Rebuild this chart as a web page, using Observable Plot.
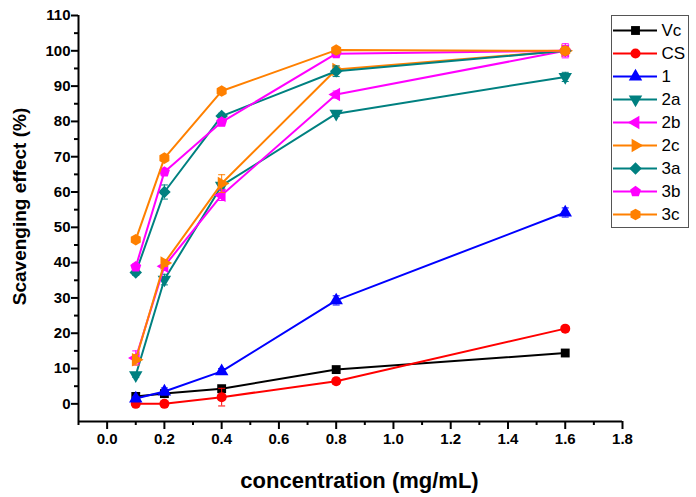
<!DOCTYPE html>
<html><head><meta charset="utf-8">
<script src="https://cdn.jsdelivr.net/npm/d3@7"></script>
<script src="https://cdn.jsdelivr.net/npm/@observablehq/plot@0.6"></script>
<style>
body{margin:0;background:#fff;}
#wrap{position:relative;width:696px;height:497px;}
#legend{position:absolute;left:611px;top:15px;border:1px solid #555;background:#fff;line-height:0;}
</style></head><body><div id="wrap"><div id="chart"></div><div id="legend"></div></div>
<script>
// ---- data ----
const conc = [0.1, 0.2, 0.4, 0.8, 1.6];
const seriesNames = ["Vc", "CS", "1", "2a", "2b", "2c", "3a", "3b", "3c"];
const vc  = [2.1, 2.9, 4.3, 9.7, 14.4];
const cs  = [0.0, 0.0, 1.9, 6.4, 21.3];
const s1  = [1.5, 3.5, 9.2, 29.3, 54.2];
const s2a = [8.1, 35.2, 61.8, 82.2, 92.6];
const s2b = [13.0, 39.0, 59.1, 87.6, 100.0];
const s2c = [12.5, 39.9, 62.4, 94.7, 100.0];
const s3a = [37.2, 60.0, 81.5, 94.2, 100.0];
const s3b = [38.8, 65.7, 79.8, 99.2, 100.0];
const s3c = [46.5, 69.6, 88.6, 100.2, 100.0];
const eVc  = [0.6, 0.6, 0.6, 0.9, 0.6];
const eCs  = [0.5, 0.6, 2.5, 0.9, 0.6];
const e1   = [0.6, 1.0, 0.8, 1.3, 1.3];
const e2a  = [0.6, 1.5, 1.0, 0.8, 1.3];
const e2b  = [2.0, 1.2, 1.5, 1.0, 2.0];
const e2c  = [1.5, 1.0, 2.5, 1.0, 1.2];
const e3a  = [0.8, 2.0, 0.8, 1.5, 1.0];
const e3b  = [0.8, 1.0, 1.0, 0.8, 1.5];
const e3c  = [0.5, 0.8, 0.8, 0.5, 1.0];
const seriesValues = [vc, cs, s1, s2a, s2b, s2c, s3a, s3b, s3c];
const seriesErrors = [eVc, eCs, e1, e2a, e2b, e2c, e3a, e3b, e3c];
const xTicksMajor = [0.0, 0.2, 0.4, 0.6, 0.8, 1.0, 1.2, 1.4, 1.6, 1.8];
const xTicksMinor = [-0.1, 0.1, 0.3, 0.5, 0.7, 0.9, 1.1, 1.3, 1.5, 1.7];
const yTicksMajor = [0, 10, 20, 30, 40, 50, 60, 70, 80, 90, 100, 110];
const yTicksMinor = [5, 15, 25, 35, 45, 55, 65, 75, 85, 95, 105];
const xLabel = "concentration (mg/mL)";
const yLabel = "Scavenging effect (%)";

// ---- styles ----
const colors = ["#000000", "#ff0000", "#0000ff", "#008080", "#ff00ff", "#ff8000", "#008080", "#ff00ff", "#ff8000"];
const S3 = Math.sqrt(3);
function tri(rot) {
  return {draw(ctx, size) {
    const y = -Math.sqrt(size / (S3 * 3));
    const pts = [[0, y * 2], [-S3 * y, -y], [S3 * y, -y]];
    const c = Math.cos(rot), s = Math.sin(rot);
    pts.forEach(([px, py], k) => {
      const X = px * c - py * s, Y = px * s + py * c;
      k ? ctx.lineTo(X, Y) : ctx.moveTo(X, Y);
    });
    ctx.closePath();
  }};
}
const pentagon = {draw(ctx, size) {
  const R = Math.sqrt(size / (2.5 * Math.sin(2 * Math.PI / 5)));
  for (let k = 0; k < 5; k++) {
    const a = -Math.PI / 2 + k * 2 * Math.PI / 5;
    k ? ctx.lineTo(R * Math.cos(a), R * Math.sin(a)) : ctx.moveTo(R * Math.cos(a), R * Math.sin(a));
  }
  ctx.closePath();
}};
const diamond = {draw(ctx, size) {
  const r = Math.sqrt(size / 2);
  ctx.moveTo(0, -r); ctx.lineTo(r, 0); ctx.lineTo(0, r); ctx.lineTo(-r, 0); ctx.closePath();
}};
const cap = {draw(ctx, size) {
  const w = Math.sqrt(size / Math.PI);
  ctx.moveTo(-w, 0); ctx.lineTo(w, 0);
}};
const symbols = ["square", "circle", tri(0), tri(Math.PI), tri(-Math.PI / 2), tri(Math.PI / 2), diamond, pentagon, "hexagon"];

const FONT = "'Liberation Sans', Arial, Helvetica, sans-serif";

// ---- main chart ----
const marks = [];
seriesNames.forEach((name, i) => {
  const rows = conc.map((c, j) => ({series: name, x: c, y: seriesValues[i][j], e: seriesErrors[i][j]}));
  marks.push(Plot.line(rows, {x: "x", y: "y", stroke: colors[i], strokeWidth: 2}));
  marks.push(Plot.ruleX(rows, {x: "x", y1: d => d.y - d.e, y2: d => d.y + d.e, stroke: colors[i], strokeWidth: 1}));
  marks.push(Plot.dot(rows, {x: "x", y: d => d.y + d.e, symbol: cap, stroke: colors[i], strokeWidth: 1, r: 3.5}));
  marks.push(Plot.dot(rows, {x: "x", y: d => d.y - d.e, symbol: cap, stroke: colors[i], strokeWidth: 1, r: 3.5}));
  marks.push(Plot.dot(rows, {x: "x", y: "y", symbol: symbols[i], fill: colors[i], r: 5}));
});

const chart = Plot.plot({
  width: 696, height: 497,
  marginLeft: 78, marginRight: 74, marginTop: 15, marginBottom: 76,
  style: {fontFamily: FONT, background: "white", overflow: "visible"},
  x: {domain: [-0.1, 1.8]},
  y: {domain: [-5, 110]},
  marks: [
    ...marks,
    Plot.axisX({ticks: xTicksMinor, tickSize: 4, strokeWidth: 2, tickFormat: () => "", label: null}),
    Plot.axisX({ticks: xTicksMajor, tickSize: 8, tickPadding: 4, strokeWidth: 2, tickFormat: d3.format(".1f"),
      fontSize: 15, fontWeight: "bold", label: null}),
    Plot.axisY({ticks: yTicksMinor, tickSize: 4, strokeWidth: 2, tickFormat: () => "", label: null}),
    Plot.axisY({ticks: yTicksMajor, tickSize: 7, tickPadding: 1, strokeWidth: 2,
      fontSize: 15, fontWeight: "bold", label: null}),
    Plot.ruleY([-5], {strokeWidth: 2}),
    Plot.ruleX([-0.1], {strokeWidth: 2}),
    Plot.text([yLabel], {frameAnchor: "left", textAnchor: "middle", lineAnchor: "middle", rotate: -90,
      dx: -59, dy: -12, fontSize: 19, fontWeight: "bold"}),
    Plot.text([xLabel], {frameAnchor: "bottom", textAnchor: "middle", lineAnchor: "middle",
      dx: 9, dy: 59, fontSize: 22, fontWeight: "bold"})
  ]
});
document.getElementById("chart").appendChild(chart);

// ---- legend ----
const legendMarks = [];
seriesNames.forEach((name, i) => {
  legendMarks.push(Plot.ruleY([name], {y: d => d, x1: 0, x2: 1, stroke: colors[i], strokeWidth: 2}));
  legendMarks.push(Plot.dot([name], {y: d => d, x: 0.5, symbol: symbols[i], fill: colors[i], r: 5}));
  legendMarks.push(Plot.text([name], {y: d => d, x: 1, text: d => d, dx: 4, textAnchor: "start", fontSize: 17}));
});
const legend = Plot.plot({
  width: 76, height: 211,
  marginLeft: 1, marginRight: 31, marginTop: 11.7, marginBottom: 11,
  style: {fontFamily: FONT, background: "white", overflow: "visible"},
  x: {domain: [0, 1], axis: null},
  y: {type: "point", domain: seriesNames, padding: 0, axis: null},
  marks: legendMarks
});
document.getElementById("legend").appendChild(legend);
</script>
</body></html>
